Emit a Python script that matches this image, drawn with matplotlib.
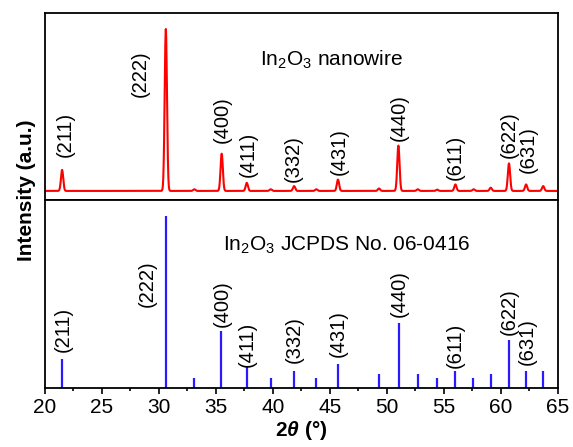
import numpy as np
import matplotlib
matplotlib.use("Agg")
import matplotlib.pyplot as plt
from matplotlib.ticker import MultipleLocator

plt.rcParams['font.family'] = ['Liberation Sans', 'DejaVu Sans']
plt.rcParams['mathtext.fontset'] = 'custom'
plt.rcParams['mathtext.rm'] = 'Liberation Sans'
plt.rcParams['mathtext.it'] = 'Liberation Sans:italic'
plt.rcParams['mathtext.bf'] = 'Liberation Sans:bold'
plt.rcParams['mathtext.bfit'] = 'Liberation Sans:bold:italic'

# measured nanowire pattern: peak positions (2theta) and relative heights
nw_pos = [21.5, 30.6, 33.1, 35.5, 37.7, 39.8, 41.85, 43.8, 45.7, 49.3,
          51.0, 52.7, 54.4, 56.0, 57.6, 59.1, 60.7, 62.2, 63.7]
nw_int = [13, 100, 1, 23, 5, 1, 3, 1, 7, 1.5,
          28, 1, 0.8, 4, 1, 2, 17, 4, 3]

# JCPDS 06-0416 reference lines
ref_pos = [21.5, 30.58, 33.1, 35.46, 37.69, 39.84, 41.84, 43.78, 45.69, 49.31,
           51.04, 52.7, 54.4, 55.99, 57.57, 59.1, 60.68, 62.2, 63.65]
ref_int = [17, 100, 6, 33, 12, 6, 10, 6, 14, 8,
           38, 8, 6, 10, 6, 8, 28, 10, 10]

# indexed reflections
hkl = ['(211)', '(222)', '(400)', '(411)', '(332)', '(431)', '(440)', '(611)', '(622)', '(631)']

# build the measured profile from the peak list
tt = np.linspace(20, 65, 4000)
profile = np.zeros_like(tt)
for p, h in zip(nw_pos, nw_int):
    profile += h * np.exp(-0.5 * ((tt - p) / 0.1) ** 2)

fig = plt.figure(figsize=(5.73, 4.47), dpi=100)
ax1 = fig.add_axes([0.0785, 0.5526, 0.8953, 0.4183])
ax2 = fig.add_axes([0.0785, 0.132, 0.8953, 0.4206])

ax1.plot(tt, profile, color='#ff0000', lw=1.5)
ax1.set_xlim(20, 65)
ax1.set_ylim(-5.6, 109.9)
ax1.set_xticks([])
ax1.set_yticks([])

ax2.vlines(ref_pos, 0, ref_int, color='#2a1bff', lw=1.6)
ax2.set_xlim(20, 65)
ax2.set_ylim(0, 109.3)
ax2.set_yticks([])
ax2.xaxis.set_major_locator(MultipleLocator(5))
ax2.xaxis.set_minor_locator(MultipleLocator(2.5))
ax2.tick_params(axis='x', which='major', direction='out', length=4, width=1.2,
                labelsize=15, pad=3)
ax2.tick_params(axis='x', which='minor', direction='out', length=2.5, width=1.2)

for ax in (ax1, ax2):
    for s in ax.spines.values():
        s.set_linewidth(1.3)

# label placement (x centre, bottom of text)
up_x = [21.75, 28.33, 35.53, 37.8, 41.75, 45.79, 51.05, 55.96, 60.7, 62.37]
up_y = [21, 58, 29.6, 8.6, 5.6, 9.9, 31, 6.8, 20.4, 11.1]
lo_x = [21.58, 28.95, 35.53, 37.7, 41.84, 45.7, 51.05, 55.96, 60.7, 62.28]
lo_y = [20.9, 47, 35.5, 12.2, 14.5, 18, 41.3, 11.6, 30.8, 13.4]

for lab, x, y in zip(hkl, up_x, up_y):
    ax1.text(x, y, lab, rotation=90, ha='center', va='bottom', fontsize=14.5)
for lab, x, y in zip(hkl, lo_x, lo_y):
    ax2.text(x, y, lab, rotation=90, ha='center', va='bottom', fontsize=14.5)

ax1.text(38.86, 80.9, r'In$_2$O$_3$ nanowire', ha='left', va='center', fontsize=15)
ax2.text(35.6, 83, r'In$_2$O$_3$ JCPDS No. 06-0416', ha='left', va='center', fontsize=15)

ax2.set_xlabel(r'2$\mathbfit{\theta}$ (°)', fontsize=15, fontweight='bold', labelpad=2)
fig.text(0.047, 0.575, 'Intensity (a.u.)', rotation=90, ha='center', va='center',
         fontsize=15, fontweight='bold')

fig.savefig('out.png', dpi=100)
